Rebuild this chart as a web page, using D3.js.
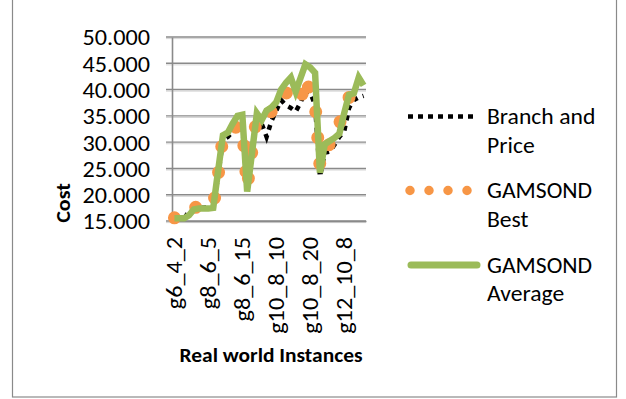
<!DOCTYPE html>
<html>
<head>
<meta charset="utf-8">
<script src="https://cdn.jsdelivr.net/npm/d3@7"></script>
<style>
  html, body { margin: 0; padding: 0; background: #fff; }
  svg { display: block; }
  text { font-family: Calibri, Carlito, Lato, sans-serif; fill: #000; }
</style>
</head>
<body>
<svg id="chart" width="626" height="399"></svg>
<script>
// Instance names (category axis); every 7th one is labelled
const instances = [
  "g6_4_2","g6_4_5","g6_4_10","g6_4_15","g8_4_2","g8_4_5","g8_6_2",
  "g8_6_5","g8_6_6","g8_6_8","g8_6_9","g8_6_10","g8_6_12","g8_6_13",
  "g8_6_15","g8_6_20","g10_6_5","g10_6_10","g10_6_15","g10_8_2","g10_8_5",
  "g10_8_10","g10_8_12","g10_8_13","g10_8_15","g10_8_16","g10_8_18","g10_8_19",
  "g10_8_20","g10_8_25","g12_8_5","g12_8_10","g12_8_15","g12_10_2","g12_10_5",
  "g12_10_8","g12_10_10","g12_10_12","g12_10_15","g12_10_20"
];

// Cost per instance for each method
const branchAndPrice = [
  15.5,15.5,15.5,16.8,17.5,17.5,17.5,17.6,17.7,23.5,
  30.5,31.0,32.0,33.0,33.0,21.0,28.0,35.0,33.5,31.0,
  34.0,36.0,38.0,37.0,36.5,35.8,37.5,39.8,39.5,37.0,
  23.4,28.0,28.2,29.5,31.0,32.0,36.5,38.0,38.5,38.8
];
const gamsondBest = [
  15.6,15.5,15.6,16.8,17.6,17.6,17.6,17.7,17.8,23.5,
  31.0,31.5,32.5,33.0,33.0,21.3,28.5,35.0,35.2,35.5,
  35.8,36.3,38.8,39.4,39.0,37.8,37.6,42.2,39.5,37.4,
  25.5,28.8,29.6,30.5,33.5,36.0,38.5,38.6,38.8,39.0
];
const gamsondAverage = [
  15.5,15.5,15.5,16.1,17.2,17.4,17.4,17.4,17.5,24.5,
  31.3,31.8,33.5,35.0,35.2,20.6,28.0,35.5,34.2,36.0,
  36.6,37.6,40.0,41.3,42.3,39.6,42.2,44.8,44.2,43.2,
  24.2,29.6,30.2,30.8,31.6,35.5,39.0,39.3,42.3,40.8
];

const yTicks = [15, 20, 25, 30, 35, 40, 45, 50];
const labelEvery = 7;

const seriesNames = ["Branch and Price", "GAMSOND Best", "GAMSOND Average"];
const seriesColors = ["#000000", "#F79646", "#9BBB59"];

// text is slightly widened to get Calibri-like proportions
const FONT = "Calibri, Carlito, Lato, sans-serif";
const WIDEN = 1.1;

const svg = d3.select("#chart");

// chart-area frame
svg.append("rect")
  .attr("x", 12.5).attr("y", -5)
  .attr("width", 604).attr("height", 402)
  .attr("fill", "none").attr("stroke", "#8a8a8a").attr("stroke-width", 1.2);

const plot = { left: 172, right: 366, top: 37, bottom: 221 };

const x = d3.scaleBand().domain(instances).range([plot.left, plot.right]).padding(0);
const xc = d => x(d) + x.bandwidth() / 2;
const y = d3.scaleLinear().domain([15, 50]).range([plot.bottom, plot.top]);

// horizontal gridlines
const grid = svg.append("g");
grid.selectAll("line.shade").data(yTicks).join("line")
  .attr("x1", plot.left - 6).attr("x2", plot.right)
  .attr("y1", d => y(d) + 1.6).attr("y2", d => y(d) + 1.6)
  .attr("stroke", "#d6d6d6").attr("stroke-width", 1);
grid.selectAll("line.main").data(yTicks).join("line")
  .attr("x1", plot.left - 6).attr("x2", plot.right)
  .attr("y1", d => y(d)).attr("y2", d => y(d))
  .attr("stroke", "#8a8a8a").attr("stroke-width", 1.4);

// value axis
const yAxis = svg.append("g")
  .attr("transform", `translate(${plot.left},0)`)
  .call(d3.axisLeft(y).tickValues(yTicks).tickFormat(d3.format(".3f")).tickSize(0));
yAxis.select(".domain").attr("stroke", "#8a8a8a").attr("stroke-width", 1.6);
yAxis.selectAll("text")
  .attr("font-size", 22).attr("fill", "#000").style("font-family", FONT)
  .attr("text-anchor", "end")
  .attr("x", 0).attr("dy", "0.36em")
  .attr("transform", `translate(-22,0) scale(${WIDEN},1)`);

// category axis
const xAxis = svg.append("g")
  .attr("transform", `translate(0,${plot.bottom})`)
  .call(d3.axisBottom(x)
    .tickValues(instances.filter((d, i) => i % labelEvery === 0))
    .tickSize(0).tickPadding(0));
xAxis.select(".domain").attr("stroke", "#8a8a8a").attr("stroke-width", 1.6);
xAxis.selectAll("text")
  .attr("font-size", 22)
  .attr("fill", "#000")
  .style("font-family", FONT)
  .attr("text-anchor", "end")
  .attr("x", 0).attr("y", 0).attr("dy", "0.36em")
  .attr("transform", `rotate(-90) translate(-16,0) scale(${WIDEN},1)`);

// series lines
const line = d3.line().x((d, i) => xc(instances[i])).y(d => y(d));

svg.append("path").datum(branchAndPrice)
  .attr("d", line).attr("fill", "none")
  .attr("stroke", seriesColors[0]).attr("stroke-width", 4.5)
  .attr("stroke-dasharray", "5,5.5");

svg.append("path").datum(gamsondBest)
  .attr("d", line).attr("fill", "none")
  .attr("stroke", seriesColors[1]).attr("stroke-width", 13)
  .attr("stroke-linecap", "round").attr("stroke-linejoin", "round")
  .attr("stroke-dasharray", "0,26");

svg.append("path").datum(gamsondAverage)
  .attr("d", line).attr("fill", "none")
  .attr("stroke", seriesColors[2]).attr("stroke-width", 6.5)
  .attr("stroke-linejoin", "miter");

// axis titles
svg.append("text")
  .attr("transform", `translate(63,203) rotate(-90) scale(${WIDEN},1)`)
  .attr("text-anchor", "middle").attr("dy", "0.35em")
  .attr("font-size", 20).attr("font-weight", "bold")
  .text("Cost");

svg.append("text")
  .attr("transform", `translate(271,355) scale(${WIDEN},1)`)
  .attr("text-anchor", "middle").attr("dy", "0.35em")
  .attr("font-size", 19.5).attr("font-weight", "bold")
  .text("Real world Instances");

// legend
const legendRows = [
  { lines: ["Branch and", "Price"], y: 116.5 },
  { lines: ["GAMSOND", "Best"], y: 190.5 },
  { lines: ["GAMSOND", "Average"], y: 265 }
];
const lg = svg.append("g");
legendRows.forEach(r => {
  const t = lg.append("text")
    .attr("transform", `translate(487,${r.y}) scale(${WIDEN},1)`)
    .attr("font-size", 21.5);
  r.lines.forEach((s, j) => {
    t.append("tspan").attr("x", 0).attr("dy", j === 0 ? "0.35em" : 28.5).text(s);
  });
});
lg.append("line").attr("x1", 408).attr("x2", 478).attr("y1", 116.5).attr("y2", 116.5)
  .attr("stroke", seriesColors[0]).attr("stroke-width", 4.5).attr("stroke-dasharray", "5,5");
lg.append("line").attr("x1", 410).attr("x2", 470).attr("y1", 190.5).attr("y2", 190.5)
  .attr("stroke", seriesColors[1]).attr("stroke-width", 9.5)
  .attr("stroke-linecap", "round").attr("stroke-dasharray", "0,19");
lg.append("line").attr("x1", 411).attr("x2", 477).attr("y1", 265).attr("y2", 265)
  .attr("stroke", seriesColors[2]).attr("stroke-width", 7).attr("stroke-linecap", "round");
</script>
</body>
</html>
